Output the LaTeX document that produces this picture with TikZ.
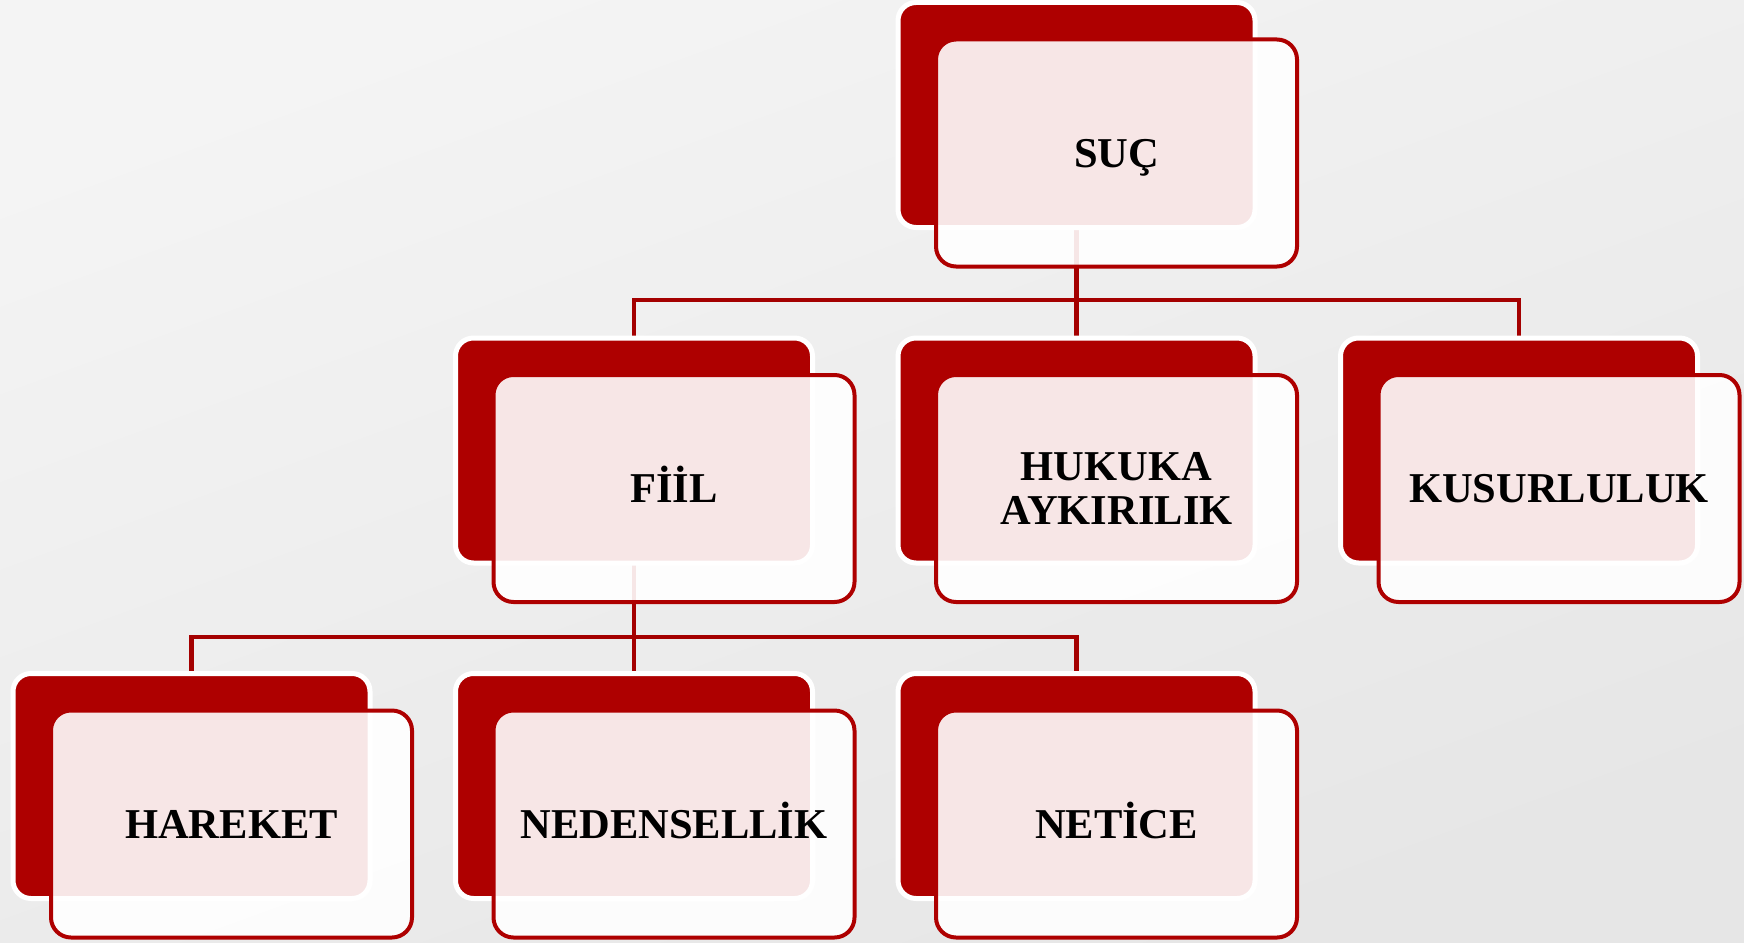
\documentclass[tikz,border=0pt]{standalone}
\usepackage{fontspec}
\setmainfont{Liberation Serif}
\definecolor{cardred}{HTML}{AE0000}
\definecolor{linered}{HTML}{A40000}
\definecolor{bgtop}{HTML}{F4F4F4}
\definecolor{bgbot}{HTML}{E6E6E6}
\pgfdeclarelayer{bglayer}
\pgfdeclarelayer{connlayer}
\pgfsetlayers{bglayer,connlayer,main}
\tikzset{
  redbox/.style={draw=white, line width=5pt, fill=cardred, rounded corners=18pt,
    minimum width=357pt, minimum height=225pt, anchor=north west, outer sep=0pt, inner sep=0pt},
  frontbox/.style={draw=cardred, line width=4pt, fill=white, fill opacity=0.9, draw opacity=1,
    text opacity=1, rounded corners=20pt, minimum width=361pt, minimum height=227pt,
    anchor=north west, outer sep=0pt, align=center,
    font=\fontsize{42.5}{44}\selectfont\bfseries},
  oneline/.style={text height=28.5pt, text depth=0pt},
  conn/.style={draw=linered, line width=4.5pt}
}
\newcommand\orgcard[5]{%
  \node[redbox] (#1R) at (#2,#3) {};
  \node[frontbox,#4] (#1) at ({#2+38},{#3+37}) {#5};
}
\begin{document}
\begin{tikzpicture}[x=1pt,y=-1pt]
\useasboundingbox (0,0) rectangle (1744,942);
\begin{pgfonlayer}{bglayer}
  \shade[top color=bgtop, bottom color=bgbot, shading angle=20] (0,0) rectangle (1744,942);
\end{pgfonlayer}
\orgcard{suc}{898}{2.5}{oneline}{SUÇ}
\orgcard{fil}{455.5}{338}{oneline}{FİİL}
\orgcard{huk}{898}{338}{}{HUKUKA\\AYKIRILIK}
\orgcard{kus}{1340.5}{338}{oneline}{KUSURLULUK}
\orgcard{har}{13}{673.5}{oneline}{HAREKET}
\orgcard{ned}{455.5}{673.5}{oneline}{NEDENSELLİK}
\orgcard{net}{898}{673.5}{oneline}{NETİCE}
\coordinate (j1) at (1076.5,300);
\coordinate (j2) at (634,637);
\begin{pgfonlayer}{connlayer}
  \draw[conn] (sucR.south) -- (j1);
  \draw[conn] (filR.north) |- (j1) -| (kusR.north);
  \draw[conn] (j1) -- (hukR.north);
  \draw[conn] (filR.south) -- (j2);
  \draw[conn] (harR.north) |- (j2) -| (netR.north);
  \draw[conn] (j2) -- (nedR.north);
\end{pgfonlayer}
\end{tikzpicture}
\end{document}
